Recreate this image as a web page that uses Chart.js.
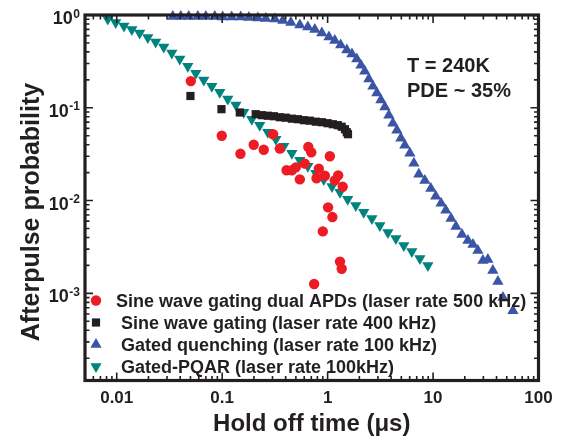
<!DOCTYPE html>
<html>
<head>
<meta charset="utf-8">
<script src="https://cdn.jsdelivr.net/npm/chart.js@4.4.1/dist/chart.umd.min.js"></script>
<style>
  body { margin: 0; background: #fff; }
  #wrap { width: 564px; height: 441px; position: relative; }
</style>
</head>
<body>
<div id="wrap"><canvas id="chart"></canvas></div>
<script>
// series names (legend order)
const seriesNames = [
    'Sine wave gating dual APDs (laser rate 500 kHz)',
    ' Sine wave gating (laser rate 400 kHz)',
    ' Gated quenching (laser rate 100 kHz)',
    ' Gated-PQAR (laser rate 100kHz)'
];

// red circles - dual APDs, 500 kHz
const redX = [0.0504, 0.0991, 0.149, 0.199, 0.248, 0.304, 0.352, 0.408, 0.458, 0.499, 0.545, 0.608, 0.656, 0.700,
    0.785, 0.825, 0.941, 1.05, 1.17, 1.26, 1.39, 1.01, 1.11, 0.900, 1.31, 1.36, 0.745];
const redY = [0.194, 0.0500, 0.0319, 0.0400, 0.0353, 0.0519, 0.0363, 0.0212, 0.0212, 0.0228, 0.0169, 0.0250, 0.0378, 0.0331,
    0.0174, 0.0221, 0.0185, 0.0300, 0.0165, 0.0187, 0.0141, 0.00845, 0.00664, 0.00465, 0.00220, 0.00184, 0.00126];

// black squares - sine wave gating, 400 kHz
const blackX = [0.0500, 0.0985, 0.147, 0.208, 0.238, 0.271, 0.309, 0.352, 0.401, 0.458, 0.522, 0.595, 0.678, 0.773,
    0.881, 1.00, 1.12, 1.25, 1.36, 1.46, 1.52, 1.56];
const blackY = [0.134, 0.0966, 0.0890, 0.0853, 0.0832, 0.0821, 0.0811, 0.0791, 0.0782, 0.0763, 0.0753, 0.0735, 0.0726, 0.0708,
    0.0699, 0.0682, 0.0665, 0.0649, 0.0625, 0.0587, 0.0545, 0.0519];

// blue up triangles - gated quenching
const blueX = [0.0340, 0.0405, 0.0482, 0.0587, 0.0699, 0.0851, 0.101, 0.123, 0.150, 0.179, 0.218, 0.259, 0.316, 0.376,
    0.448, 0.545, 0.649, 0.756, 0.881, 1.03, 1.17, 1.33, 1.52, 1.70, 1.89, 2.07, 2.25, 2.46, 2.69, 2.93, 3.20, 3.49,
    3.81, 4.16, 4.54, 4.95, 5.40, 6.03, 6.58, 7.33, 8.36, 9.53, 10.6, 11.9, 13.2, 14.8, 16.5, 18.8, 21.4, 23.9, 26.6,
    29.7, 33.1, 36.9, 41.2, 46.0, 57.2];
const blueY = [0.963, 0.963, 0.963, 0.963, 0.963, 0.963, 0.951, 0.951, 0.951, 0.940, 0.928, 0.917, 0.905, 0.872,
    0.830, 0.780, 0.742, 0.697, 0.639, 0.579, 0.531, 0.474, 0.419, 0.379, 0.335, 0.288, 0.248, 0.204, 0.171, 0.144,
    0.121, 0.102, 0.0832, 0.0682, 0.0573, 0.0469, 0.0395, 0.0323, 0.0252, 0.0192, 0.0165, 0.0135, 0.0111, 0.00933,
    0.00784, 0.00642, 0.00526, 0.00431, 0.00372, 0.00337, 0.00290, 0.00226, 0.00232, 0.00176, 0.00134, 0.00090, 0.00065];

// teal down triangles - gated PQAR
const tealX = [0.00822, 0.00978, 0.0117, 0.0139, 0.0165, 0.0197, 0.0234, 0.0279, 0.0333, 0.0396, 0.0472, 0.0562,
    0.0669, 0.0797, 0.0949, 0.113, 0.135, 0.160, 0.191, 0.227, 0.271, 0.323, 0.384, 0.458, 0.545, 0.649, 0.773,
    0.920, 1.10, 1.31, 1.55, 1.85, 2.20, 2.63, 3.13, 3.73, 4.44, 5.28, 6.29, 7.50, 8.93];
const tealY = [0.905, 0.830, 0.761, 0.697, 0.639, 0.571, 0.511, 0.451, 0.389, 0.335, 0.281, 0.236, 0.199, 0.171,
    0.147, 0.124, 0.107, 0.0897, 0.0753, 0.0649, 0.0545, 0.0458, 0.0385, 0.0323, 0.0272, 0.0234, 0.0197, 0.0169,
    0.0142, 0.0123, 0.0103, 0.00887, 0.00746, 0.00642, 0.00540, 0.00453, 0.00391, 0.00328, 0.00283, 0.00238, 0.00200];

// axes
const xMin = 0.005, xMax = 100;
const yMin = 1.15e-4, yMax = 1;
const xTickValues = [0.01, 0.1, 1, 10, 100];
const xTickLabels = ['0.01', '0.1', '1', '10', '100'];
const yTickValues = [1, 0.1, 0.01, 0.001];
const yTickExps = ['0', '-1', '-2', '-3'];

const annotations = ['T = 240K', 'PDE ~ 35%'];
const xTitle = 'Hold off time (\u03bcs)';
const yTitle = 'Afterpulse probability';

const ink = '#231f20';
const font = "'Liberation Sans', Arial, sans-serif";

function pairs(xs, ys) {
    return xs.map((x, i) => ({ x: x, y: ys[i] }));
}

const datasets = [
    { label: seriesNames[0], data: pairs(redX, redY), pointStyle: 'circle', pointRadius: 5.2, backgroundColor: '#ed1c24' },
    { label: seriesNames[1], data: pairs(blackX, blackY), pointStyle: 'rect', pointRadius: 5.8, backgroundColor: ink },
    { label: seriesNames[2], data: pairs(blueX, blueY), pointStyle: 'triangle', pointRadius: 6.5, backgroundColor: '#3b55a6' },
    { label: seriesNames[3], data: pairs(tealX, tealY), pointStyle: 'triangle', pointRotation: 180, pointRadius: 6.5, backgroundColor: '#00837e' }
].map(d => Object.assign(d, { borderWidth: 0, pointBorderWidth: 0, showLine: false, clip: false }));

function marker(ctx, style, rotation, radius, x, y) {
    if (Chart.helpers && Chart.helpers.drawPoint) {
        Chart.helpers.drawPoint(ctx, { pointStyle: style, rotation: rotation, radius: radius, borderWidth: 0 }, x, y);
    } else {
        ctx.beginPath();
        ctx.arc(x, y, radius, 0, Math.PI * 2);
        ctx.fill();
    }
}

// frame, inward ticks, labels, legend and notes
const decorations = {
    id: 'decorations',
    afterDraw(chart) {
        const ctx = chart.ctx;
        const area = chart.chartArea;
        const xs = chart.scales.x, ys = chart.scales.y;
        ctx.save();
        ctx.strokeStyle = ink;
        ctx.fillStyle = ink;

        // inward ticks on all four sides
        ctx.lineWidth = 1.6;
        ctx.beginPath();
        for (let k = -3; k <= 2; k++) {
            for (let m = 1; m <= 9; m++) {
                const v = m * Math.pow(10, k);
                if (v < xMin * 0.999 || v > xMax * 1.001) continue;
                const len = m === 1 ? 8 : 4.5;
                const px = xs.getPixelForValue(v);
                ctx.moveTo(px, area.bottom); ctx.lineTo(px, area.bottom - len);
                ctx.moveTo(px, area.top); ctx.lineTo(px, area.top + len);
            }
        }
        for (let k = -4; k <= 0; k++) {
            for (let m = 1; m <= 9; m++) {
                const v = m * Math.pow(10, k);
                if (v < yMin * 0.999 || v > yMax * 1.001) continue;
                const len = m === 1 ? 8 : 4.5;
                const py = ys.getPixelForValue(v);
                ctx.moveTo(area.left, py); ctx.lineTo(area.left + len, py);
                ctx.moveTo(area.right, py); ctx.lineTo(area.right - len, py);
            }
        }
        ctx.stroke();

        ctx.lineWidth = 3.2;
        ctx.strokeRect(area.left, area.top, area.right - area.left, area.bottom - area.top);

        // x tick labels
        ctx.font = 'bold 17px ' + font;
        ctx.textAlign = 'center';
        ctx.textBaseline = 'alphabetic';
        xTickValues.forEach((v, i) => {
            ctx.fillText(xTickLabels[i], xs.getPixelForValue(v), area.bottom + 22.5);
        });

        // y tick labels 10^n
        ctx.textAlign = 'right';
        yTickValues.forEach((v, i) => {
            const py = ys.getPixelForValue(v);
            const right = area.left - 5;
            ctx.font = 'bold 12px ' + font;
            const w = ctx.measureText(yTickExps[i]).width;
            ctx.fillText(yTickExps[i], right, py + 2.5);
            ctx.font = 'bold 18px ' + font;
            ctx.fillText('10', right - w - 0.5, py + 9);
        });

        // axis titles
        ctx.textAlign = 'center';
        ctx.font = 'bold 24px ' + font;
        ctx.fillText(xTitle, (area.left + area.right) / 2, area.bottom + 50.5);
        ctx.save();
        ctx.translate(39, 212);
        ctx.rotate(-Math.PI / 2);
        ctx.font = 'bold 25px ' + font;
        ctx.fillText(yTitle, 0, 0);
        ctx.restore();

        // notes
        ctx.textAlign = 'left';
        ctx.font = 'bold 20px ' + font;
        ctx.fillText(annotations[0], 407, 72);
        ctx.fillText(annotations[1], 407, 96.5);

        // legend
        ctx.font = 'bold 18px ' + font;
        chart.data.datasets.forEach((d, i) => {
            const y = area.bottom - 80 + i * 22;
            ctx.fillStyle = d.backgroundColor;
            marker(ctx, d.pointStyle, d.pointRotation || 0, d.pointRadius, 96, y);
            ctx.fillStyle = ink;
            ctx.fillText(d.label, 116, y + 6);
        });
        ctx.restore();
    }
};

new Chart(document.getElementById('chart'), {
    type: 'scatter',
    data: { datasets: datasets },
    options: {
        responsive: true,
        maintainAspectRatio: false,
        animation: false,
        events: [],
        layout: { padding: { left: 85, right: 25.5, top: 15, bottom: 60.5 } },
        scales: {
            x: { type: 'logarithmic', min: xMin, max: xMax, display: false },
            y: { type: 'logarithmic', min: yMin, max: yMax, display: false }
        },
        plugins: {
            legend: { display: false },
            tooltip: { enabled: false }
        }
    },
    plugins: [decorations]
});
</script>
</body>
</html>
